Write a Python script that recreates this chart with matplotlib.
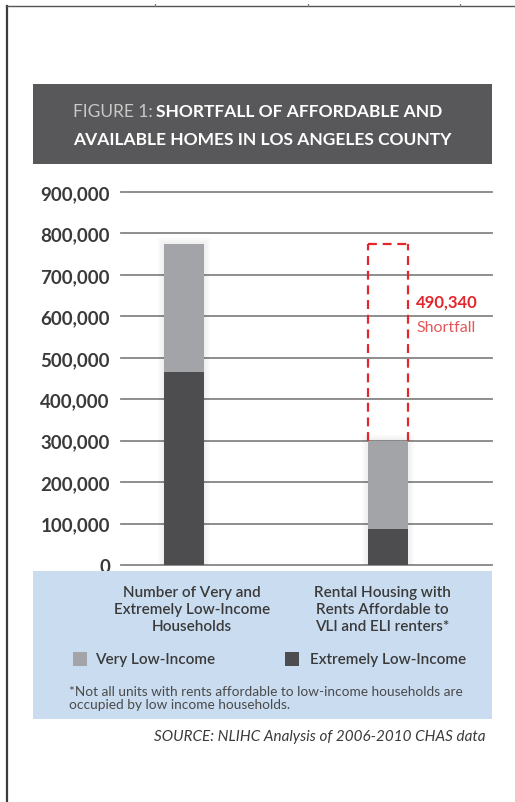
import numpy as np
import matplotlib
matplotlib.use("Agg")
import matplotlib.pyplot as plt
from matplotlib.patches import Rectangle
from matplotlib.lines import Line2D

plt.rcParams['font.family'] = ['Lato', 'DejaVu Sans']

#### data ####
categories = ["Number of Very and\nExtremely Low-Income\nHouseholds",
              "Rental Housing with\nRents Affordable to\nVLI and ELI renters*"]
extremely_low = [466000, 87000]     # dark segment
very_low = [308000, 211000]         # light segment on top
shortfall = 490340
yticks = [0, 100000, 200000, 300000, 400000, 500000, 600000, 700000, 800000, 900000]
legend_labels = ["Very Low-Income", "Extremely Low-Income"]
title_lead = "FIGURE 1:"
title_rest = "SHORTFALL OF AFFORDABLE AND"
title_line2 = "AVAILABLE HOMES IN LOS ANGELES COUNTY"
footnote = ("*Not all units with rents affordable to low-income households are\n"
            "occupied by low income households.")
source = "SOURCE: NLIHC Analysis of 2006-2010 CHAS data"

VLI_COLOR = '#a3a4a7'
ELI_COLOR = '#4d4d4f'
RED = '#e3262b'

W, H = 515, 803


def fx(x):
    return x / W


def fy(y):
    return 1 - y / H


fig = plt.figure(figsize=(W / 100, H / 100), dpi=100)
fig.patch.set_facecolor('white')

############ page frame ############
fig.add_artist(Line2D([fx(6.5), fx(6.5)], [fy(7), fy(803)], color='#3a3a3a', lw=1.6))
fig.add_artist(Line2D([fx(6), fx(515)], [fy(7), fy(7)], color='#555555', lw=1.0))
for tx in [155, 308, 460]:
    fig.add_artist(Line2D([fx(tx), fx(tx)], [fy(5), fy(7)], color='#777777', lw=0.8))

############ title box ############
fig.add_artist(Rectangle((fx(33), fy(165)), fx(492) - fx(33), fy(85) - fy(165),
                         transform=fig.transFigure, facecolor='#58585a', edgecolor='none'))
t1 = fig.text(fx(73), fy(112), title_lead, color='#c9c9c9', fontsize=12.5,
              va='center', ha='left')
renderer = fig.canvas.get_renderer()
bb = t1.get_window_extent(renderer)
fig.text(bb.x1 / fig.bbox.width + fx(3), fy(112), title_rest, color='white',
         fontsize=12.5, fontweight='bold', va='center', ha='left')
fig.text(fx(73), fy(140), title_line2, color='white', fontsize=12.5,
         fontweight='bold', va='center', ha='left')

############ blue panel ############
fig.add_artist(Rectangle((fx(33), fy(720)), fx(492) - fx(33), fy(572) - fy(720),
                         transform=fig.transFigure, facecolor='#cadcf0', edgecolor='none'))

############ chart ############
ax = fig.add_axes([fx(121), fy(566), fx(492) - fx(121), fy(193) - fy(566)])
ax.patch.set_alpha(0)
x = np.arange(len(categories))
width = 40 / 204.0
ax.set_xlim(-63 / 204.0, 1 + 104 / 204.0)
ax.set_ylim(0, 900000)

totals = [a + b for a, b in zip(extremely_low, very_low)]
ypx = 900000 / 373.0  # value per pixel

# soft shadow around the bars
for s in [6, 4, 2]:
    ax.bar(x, [t + s * ypx for t in totals], width=width + 2 * s / 204.0,
           color='#000000', alpha=0.018, zorder=2, linewidth=0)

ax.bar(x, extremely_low, width=width, color=ELI_COLOR, zorder=3, linewidth=0)
ax.bar(x, very_low, bottom=extremely_low, width=width, color=VLI_COLOR, zorder=3, linewidth=0)

# dashed outline of the shortfall above the second bar
xl, xr = x[1] - width / 2, x[1] + width / 2
dash = dict(color=RED, lw=1.6, linestyle=(0, (4, 2.6)), zorder=4)
ax.plot([xl, xl], [totals[1], totals[0]], **dash)
ax.plot([xr, xr], [totals[1], totals[0]], **dash)
ax.plot([xl, xr], [totals[0], totals[0]], **dash)

ax.annotate(f"{shortfall:,}", xy=(xr, totals[0]), xytext=(6, -57 * 0.72),
            textcoords='offset points', color=RED, fontsize=12, fontweight='bold',
            va='center', ha='left')
ax.annotate("Shortfall", xy=(xr, totals[0]), xytext=(6, -83 * 0.72),
            textcoords='offset points', color='#e4585a', fontsize=11.5,
            va='center', ha='left')

ax.set_yticks(yticks)
ax.set_yticklabels([f"{v:,}" for v in yticks], fontweight='bold', fontsize=13.5,
                   color='#3a3a3a')
ax.set_xticks([])
ax.tick_params(axis='y', length=0, pad=8)
ax.grid(axis='y', color='#858585', lw=1.3)
ax.set_axisbelow(True)
for line in ax.get_ygridlines():
    line.set_clip_on(False)
for sp in ax.spines.values():
    sp.set_visible(False)

############ category labels and legend ############
fig.text(fx(192), fy(610), categories[0], ha='center', va='center', fontsize=11,
         color='#3a3a3a', fontweight='semibold', linespacing=1.3)
fig.text(fx(382), fy(610), categories[1], ha='center', va='center', fontsize=11,
         color='#3a3a3a', fontweight='semibold', linespacing=1.3)

sq = 14
for (sx, tx), col, lab in zip([(73, 95), (285, 310)], [VLI_COLOR, ELI_COLOR], legend_labels):
    fig.add_artist(Rectangle((fx(sx), fy(667)), fx(sq), fy(653) - fy(667),
                             transform=fig.transFigure, facecolor=col, edgecolor='none'))
    fig.text(fx(tx), fy(660), lab, ha='left', va='center', fontsize=11,
             color='#3a3a3a', fontweight='semibold')

fig.text(fx(69), fy(699), footnote, ha='left', va='center', fontsize=9.8,
         color='#4a4a4a', linespacing=1.1)

fig.text(fx(485), fy(737), source, ha='right', va='center', fontsize=11,
         color='#3a3a3a', style='italic')

plt.savefig('out.png', dpi=100)
